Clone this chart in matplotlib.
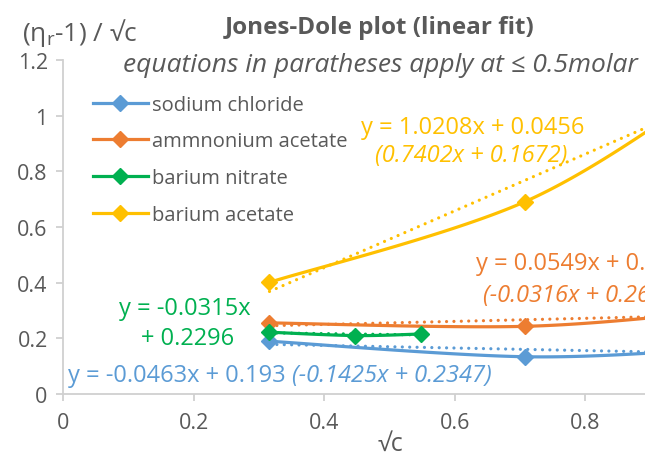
import matplotlib.pyplot as plt
import numpy as np

plt.rcParams['font.family'] = ['Open Sans', 'DejaVu Sans']
plt.rcParams['mathtext.fontset'] = 'custom'
plt.rcParams['mathtext.rm'] = 'Open Sans'
plt.rcParams['mathtext.it'] = 'Open Sans:italic'

# concentrations (molar) and (eta_r - 1)/sqrt(c) for each salt
nacl_c = [0.1, 0.5, 1.0]
nacl_y = [0.1896, 0.1339, 0.1616]
nh4ac_c = [0.1, 0.5, 1.0]
nh4ac_y = [0.2555, 0.2431, 0.2963]
bano3_c = [0.1, 0.2, 0.3]
bano3_y = [0.2220, 0.2100, 0.2155]
baac_c = [0.1, 0.5, 1.0]
baac_y = [0.4013, 0.6906, 1.1100]

names = ['sodium chloride', 'ammnonium acetate', 'barium nitrate', 'barium acetate']
colors = ['#5B9BD5', '#ED7D31', '#00B050', '#FFC000']

# linear fits over all points: (slope, intercept)
fit_all = [(-0.0463, 0.193), (0.0549, 0.228), (-0.0315, 0.2296), (1.0208, 0.0456)]

GREY = '#595959'
AXIS = '#D0D0D0'


def smooth(x, y, n=50):
    # Bezier smoothing through the points, like a spreadsheet "smoothed line"
    x = np.asarray(x, float)
    y = np.asarray(y, float)
    last = len(x) - 1
    t = np.linspace(0, 1, n)
    xs, ys = [], []
    for i in range(last):
        a = max(i - 1, 0)
        b = min(i + 2, last)
        c1x = x[i] + (x[i + 1] - x[a]) / 6
        c1y = y[i] + (y[i + 1] - y[a]) / 6
        c2x = x[i + 1] - (x[b] - x[i]) / 6
        c2y = y[i + 1] - (y[b] - y[i]) / 6
        xs.append((1 - t)**3 * x[i] + 3 * (1 - t)**2 * t * c1x + 3 * (1 - t) * t**2 * c2x + t**3 * x[i + 1])
        ys.append((1 - t)**3 * y[i] + 3 * (1 - t)**2 * t * c1y + 3 * (1 - t) * t**2 * c2y + t**3 * y[i + 1])
    return np.concatenate(xs), np.concatenate(ys)


fig = plt.figure(figsize=(6.45, 4.56), dpi=100)
ax = fig.add_axes([63 / 645, 61 / 456, 582 / 645, 334 / 456])

series = [(nacl_c, nacl_y), (nh4ac_c, nh4ac_y), (bano3_c, bano3_y), (baac_c, baac_y)]
for (c, y), name, col, (m, b) in zip(series, names, colors, fit_all):
    x = np.sqrt(c)
    sx, sy = smooth(x, y)
    ax.plot(sx, sy, color=col, lw=2.3, solid_capstyle='round')
    ax.plot(x, y, ls='none', marker='D', ms=8, color=col)
    ax.plot([], [], color=col, lw=2.3, marker='D', ms=8, label=name)
    fx = np.array([x.min(), x.max()])
    ax.plot(fx, m * fx + b, color=col, lw=2.3, ls=(0, (0.01, 2.3)), dash_capstyle='round')

ax.set_xlim(0, 582 / 653)
ax.set_ylim(0, 1.2)
ax.set_xticks([0, 0.2, 0.4, 0.6, 0.8])
ax.set_xticklabels(['0', '0.2', '0.4', '0.6', '0.8'])
ax.set_yticks([0, 0.2, 0.4, 0.6, 0.8, 1.0, 1.2])
ax.set_yticklabels(['0', '0.2', '0.4', '0.6', '0.8', '1', '1.2'])
for s in ['top', 'right']:
    ax.spines[s].set_visible(False)
for s in ['left', 'bottom']:
    ax.spines[s].set_color(AXIS)
    ax.spines[s].set_linewidth(1.3)
ax.tick_params(colors=AXIS, labelcolor=GREY, labelsize=15.5, length=5, width=1.3)
ax.tick_params(axis='x', pad=8)
ax.tick_params(axis='y', pad=6)

leg = ax.legend(loc='upper left', bbox_to_anchor=(0.038, 0.92), frameon=False,
                fontsize=14.5, handlelength=2.7, handletextpad=0.2, labelspacing=0.83,
                borderaxespad=0)
for t in leg.get_texts():
    t.set_color(GREY)

# titles and axis labels
fig.text(380 / 645, 1 - 28 / 456, 'Jones-Dole plot (linear fit)', ha='center', va='center',
         fontsize=17.5, fontweight='bold', color=GREY)
fig.text(380 / 645, 1 - 65 / 456, 'equations in paratheses apply at ≤ 0.5molar', ha='center',
         va='center', fontsize=19, style='italic', color=GREY)
fig.text(22 / 645, 1 - 33 / 456, r'(η$_\mathrm{r}$-1) / √c', ha='left', va='center',
         fontsize=19, color=GREY)
fig.text(390 / 645, 1 - 444 / 456, '√c', ha='center', va='center', fontsize=18, color=GREY)

# fit equations
eq = dict(fontsize=17, clip_on=False)
ax.text(0.628, 0.961, 'y = 1.0208x + 0.0456', ha='center', va='center', color=colors[3], **eq)
ax.text(0.625, 0.857, '(0.7402x + 0.1672)', ha='center', va='center', style='italic',
        color=colors[3], **eq)
ax.text(0.632, 0.470, 'y = 0.0549x + 0.228', ha='left', va='center', color=colors[1], **eq)
ax.text(0.643, 0.355, '(-0.0316x + 0.2655)', ha='left', va='center', style='italic',
        color=colors[1], **eq)
ax.text(0.187, 0.308, 'y = -0.0315x', ha='center', va='center', color=colors[2], **eq)
ax.text(0.190, 0.201, '+ 0.2296', ha='center', va='center', color=colors[2], **eq)
blue = ax.text(0.0077, 0.068, 'y = -0.0463x + 0.193 ', ha='left', va='center',
               color=colors[0], **eq)
fig.canvas.draw()
bb = blue.get_window_extent()
x_end = ax.transData.inverted().transform((bb.x1, bb.y0))[0]
ax.text(x_end, 0.068, '(-0.1425x + 0.2347)', ha='left', va='center', style='italic',
        color=colors[0], **eq)

fig.savefig('out.png', dpi=100)
